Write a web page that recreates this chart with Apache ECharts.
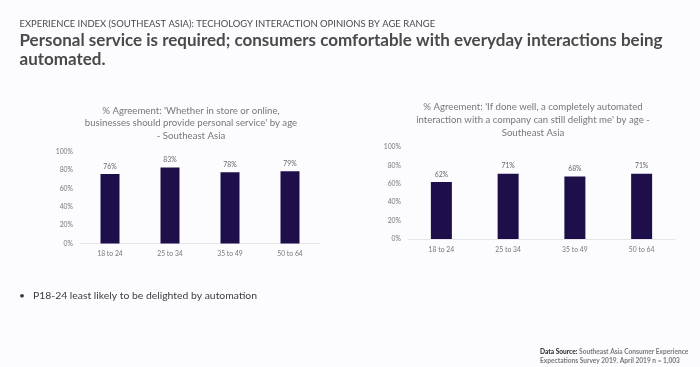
<!DOCTYPE html>
<html><head><meta charset="utf-8">
<style>html,body{margin:0;padding:0;background:#fcfcfe}#c{width:700px;height:367px}</style>
<script src="https://cdn.jsdelivr.net/npm/echarts@6/dist/echarts.min.js"></script>
</head><body><div id="c"></div>
<script>
const categories = ['18 to 24','25 to 34','35 to 49','50 to 64'];
const leftValues = [76,83,78,79];
const rightValues = [62,71,68,71];
const leftTitle = "% Agreement: 'Whether in store or online,\nbusinesses should provide personal service' by age\n- Southeast Asia";
const rightTitle = "% Agreement: 'If done well, a completely automated\ninteraction with a company can still delight me' by age -\nSoutheast Asia";
const eyebrow = 'EXPERIENCE INDEX (SOUTHEAST ASIA): TECHOLOGY INTERACTION OPINIONS BY AGE RANGE';
const headline = 'Personal service is required; consumers comfortable with everyday interactions being\nautomated.';
const bullet = '•   P18-24 least likely to be delighted by automation';
const F = 'Lato';
const chart = echarts.init(document.getElementById('c'));
const axisX = i => ({type:'category',gridIndex:i,data:categories,axisTick:{show:false},
  axisLine:{lineStyle:{color:'#e6e6ea',width:1}},axisLabel:{color:'#77777d',fontSize:6.8,fontFamily:F,margin:7}});
const axisY = i => ({type:'value',gridIndex:i,min:0,max:100,interval:20,splitLine:{show:false},
  axisLine:{show:false},axisTick:{show:false},axisLabel:{color:'#77777d',fontSize:6.8,fontFamily:F,margin:7,formatter:'{value}%'}});
const bars = (i,d,w) => ({type:'bar',xAxisIndex:i,yAxisIndex:i,data:d,barWidth:w,
  itemStyle:{color:'#1e0f4b'},
  label:{show:true,position:'top',distance:4,color:'#66666c',fontSize:6.8,fontFamily:F,formatter:'{c}%'}});
chart.setOption({
  animation:false,backgroundColor:'#fcfcfe',
  title:[
    {text:eyebrow,left:14.5,top:14,textStyle:{fontFamily:F,fontSize:9.45,fontWeight:'normal',color:'#4a4a4a'}},
    {text:headline,left:14.5,top:26,textStyle:{fontFamily:F,fontSize:17,fontWeight:'bold',color:'#4a4a4a',lineHeight:19}},
    {text:leftTitle,left:186,top:99,textAlign:'center',textStyle:{fontFamily:F,fontSize:9.65,fontWeight:'normal',color:'#76767c',lineHeight:12.8}},
    {text:rightTitle,left:528,top:95,textAlign:'center',textStyle:{fontFamily:F,fontSize:9.65,fontWeight:'normal',color:'#76767c',lineHeight:13}},
    {text:bullet,left:14,top:286,textStyle:{fontFamily:F,fontSize:10.4,fontWeight:'normal',color:'#3c3c3c'}},
    {text:'{b|Data Source:} Southeast Asia Consumer Experience\nExpectations Survey 2019. April 2019 n = 1,003',left:535,top:342,
     textStyle:{fontFamily:F,fontSize:6.6,color:'#77777d',lineHeight:9.5,rich:{b:{fontFamily:F,fontSize:6.6,fontWeight:'bold',color:'#222',lineHeight:9.5}}}}
  ],
  grid:[{left:80,width:240,top:152,height:91.5},{left:408,width:267,top:147,height:92}],
  xAxis:[axisX(0),axisX(1)],
  yAxis:[axisY(0),axisY(1)],
  series:[bars(0,leftValues,19),bars(1,rightValues,21)]
});
</script></body></html>
